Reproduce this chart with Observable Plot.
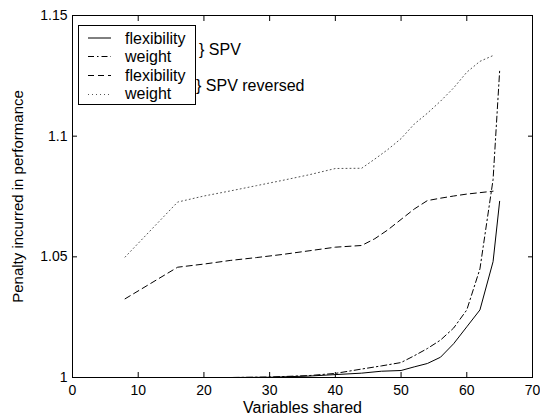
<!DOCTYPE html>
<html>
<head>
<meta charset="utf-8">
<script src="https://cdn.jsdelivr.net/npm/d3@7"></script>
<script src="https://cdn.jsdelivr.net/npm/@observablehq/plot@0.6"></script>
<style>
  body { margin: 0; background: #fff; font-family: "Liberation Sans", Arial, sans-serif; }
  #wrap { position: relative; width: 540px; height: 416px; }
  #overlay { position: absolute; left: 0; top: 0; pointer-events: none; }
</style>
</head>
<body>
<div id="wrap"></div>
<script>
// ---- data ----
const xTicks = [0, 10, 20, 30, 40, 50, 60, 70];
const yTicks = [1, 1.05, 1.1, 1.15];
const xLabel = "Variables shared";
const yLabel = "Penalty incurred in performance";

const spvFlexX = [8, 16, 24, 30, 36, 40, 44, 47, 50, 52, 54, 56, 58, 60, 62, 64, 65];
const spvFlexY = [1.0, 1.0, 1.0, 1.0001, 1.0006, 1.0012, 1.0018, 1.0026, 1.0029, 1.0044, 1.0058, 1.0084, 1.014, 1.021, 1.028, 1.048, 1.073];

const spvWeightX = [8, 16, 24, 30, 36, 40, 44, 47, 50, 52, 54, 56, 58, 60, 62, 64, 65];
const spvWeightY = [1.0, 1.0, 1.0, 1.0002, 1.0008, 1.0017, 1.0035, 1.0048, 1.0062, 1.009, 1.012, 1.0155, 1.0205, 1.028, 1.045, 1.082, 1.127];

const revFlexX = [8, 16, 20, 24, 28, 32, 36, 40, 44, 46, 48, 50, 52, 54, 56, 58, 60, 62, 64];
const revFlexY = [1.0326, 1.0457, 1.047, 1.0485, 1.0497, 1.051, 1.0525, 1.054, 1.0547, 1.0575, 1.0612, 1.0655, 1.0698, 1.0733, 1.0743, 1.0752, 1.076, 1.0766, 1.0772];

const revWeightX = [8, 16, 20, 24, 28, 32, 36, 40, 44, 46, 48, 50, 52, 54, 56, 58, 60, 62, 64];
const revWeightY = [1.0499, 1.0727, 1.0752, 1.0773, 1.0795, 1.0817, 1.084, 1.0866, 1.0867, 1.0905, 1.0945, 1.099, 1.105, 1.1095, 1.1145, 1.12, 1.1265, 1.131, 1.1334];

const seriesNames = ["flexibility", "weight", "flexibility", "weight"];
const groupLabels = ["} SPV", "} SPV reversed"];

// ---- build tables ----
const toRows = (xs, ys) => xs.map((x, i) => ({x, y: ys[i]}));
const series = [
  {rows: toRows(spvFlexX, spvFlexY), dash: null, stroke: "#000"},
  {rows: toRows(spvWeightX, spvWeightY), dash: "6,3,1.5,3", stroke: "#000"},
  {rows: toRows(revFlexX, revFlexY), dash: "6,4", stroke: "#000"},
  {rows: toRows(revWeightX, revWeightY), dash: "1,3", stroke: "#555"}
];

const fmt = d => String(+d.toFixed(2));

const chart = Plot.plot({
  width: 540,
  height: 416,
  marginLeft: 72,
  marginRight: 8,
  marginTop: 15,
  marginBottom: 39,
  style: {fontFamily: "Liberation Sans, Arial, sans-serif", fontSize: "14px", color: "#000", background: "#fff"},
  x: {domain: [0, 70]},
  y: {domain: [1, 1.15]},
  marks: [
    ...series.map(s => Plot.line(s.rows, {x: "x", y: "y", stroke: s.stroke, strokeWidth: 1, strokeDasharray: s.dash})),
    Plot.axisX(xTicks, {anchor: "bottom", tickSize: -5, tickPadding: 13, tickFormat: fmt, label: null, fontSize: 14}),
    Plot.axisX(xTicks, {anchor: "top", tickSize: -5, tickFormat: () => "", label: null}),
    Plot.axisY(yTicks, {anchor: "left", tickSize: -5, tickPadding: 10, tickFormat: fmt, label: null, fontSize: 14}),
    Plot.axisY(yTicks, {anchor: "right", tickSize: -5, tickFormat: () => "", label: null}),
    Plot.text([xLabel], {frameAnchor: "bottom", dy: 35, fontSize: 16, fill: "#000", textAnchor: "middle"}),
    Plot.text([yLabel], {frameAnchor: "left", rotate: -90, dx: -54, fontSize: 15, fill: "#000", textAnchor: "middle"}),
    Plot.frame({stroke: "#000", strokeWidth: 1})
  ]
});

const wrap = document.getElementById("wrap");
wrap.appendChild(chart);

// legend overlay
const ns = "http://www.w3.org/2000/svg";
const ov = document.createElementNS(ns, "svg");
ov.id = "overlay";
ov.setAttribute("width", 540);
ov.setAttribute("height", 416);
const mk = (tag, attrs) => {
  const e = document.createElementNS(ns, tag);
  for (const k in attrs) e.setAttribute(k, attrs[k]);
  ov.appendChild(e);
  return e;
};
mk("rect", {x: 78.5, y: 25.5, width: 117, height: 79, fill: "#fff", stroke: "#000", "stroke-width": 1});
const lineYs = [38, 56.5, 75.5, 94.5];
const textYs = [44, 62, 80.5, 98.5];
series.forEach((s, i) => {
  const a = {x1: 88, x2: 111, y1: lineYs[i], y2: lineYs[i], stroke: s.stroke, "stroke-width": 1};
  if (s.dash) a["stroke-dasharray"] = s.dash;
  mk("line", a);
  const t = mk("text", {x: 125, y: textYs[i], "font-size": 16, "font-family": "Liberation Sans, Arial, sans-serif", fill: "#000"});
  t.textContent = seriesNames[i];
});
const g1 = mk("text", {x: 199, y: 55, "font-size": 16, "font-family": "Liberation Sans, Arial, sans-serif", fill: "#000"});
g1.textContent = groupLabels[0];
const g2 = mk("text", {x: 196, y: 91, "font-size": 16, "font-family": "Liberation Sans, Arial, sans-serif", fill: "#000"});
g2.textContent = groupLabels[1];
wrap.appendChild(ov);
</script>
</body>
</html>
